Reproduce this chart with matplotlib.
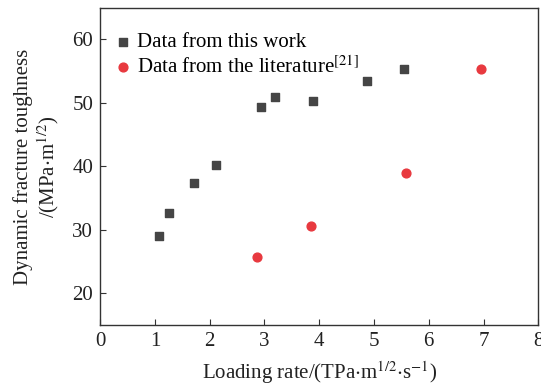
import matplotlib
matplotlib.use("Agg")
import matplotlib.pyplot as plt

# data
work_x = [1.08, 1.25, 1.71, 2.12, 2.93, 3.19, 3.88, 4.88, 5.54]
work_y = [29.1, 32.6, 37.4, 40.2, 49.4, 51.0, 50.3, 53.5, 55.3]
lit_x = [2.87, 3.85, 5.59, 6.95]
lit_y = [25.7, 30.6, 39.0, 55.4]

plt.rcParams["font.family"] = "Liberation Serif"
plt.rcParams["mathtext.fontset"] = "stix"
plt.rcParams["font.size"] = 15

fig = plt.figure(figsize=(5.41, 3.88), dpi=100)
ax = fig.add_axes([0.185, 0.162, 0.81, 0.818])

ax.scatter(work_x, work_y, marker="s", s=28, color="#454545", label="Data from this work", zorder=3)
ax.scatter(lit_x, lit_y, marker="o", s=40, color="#e8393f", label="Data from the literature$^{[21]}$", zorder=3)

ax.set_xlim(0, 8)
ax.set_ylim(15, 65)
ax.set_xticks(range(0, 9))
ax.set_yticks([20, 30, 40, 50, 60])
ax.tick_params(direction="in", length=4, width=0.8, colors="#333333", labelcolor="#222222", pad=5)
for s in ax.spines.values():
    s.set_color("#333333")
    s.set_linewidth(1.0)

ax.set_xlabel(r"Loading rate/(TPa$\cdot$m$^{1/2}$$\cdot$s$^{-1}$)", color="#222222", labelpad=6)
ax.set_ylabel("Dynamic fracture toughness\n" + r"/(MPa$\cdot$m$^{1/2}$)", color="#222222",
              linespacing=1.15, labelpad=8)

ax.legend(loc="upper left", frameon=False, handletextpad=0.07, borderaxespad=0, borderpad=0,
          labelspacing=0.2, handlelength=1.2, bbox_to_anchor=(0.024, 0.922))

fig.savefig("out.png", dpi=100)
